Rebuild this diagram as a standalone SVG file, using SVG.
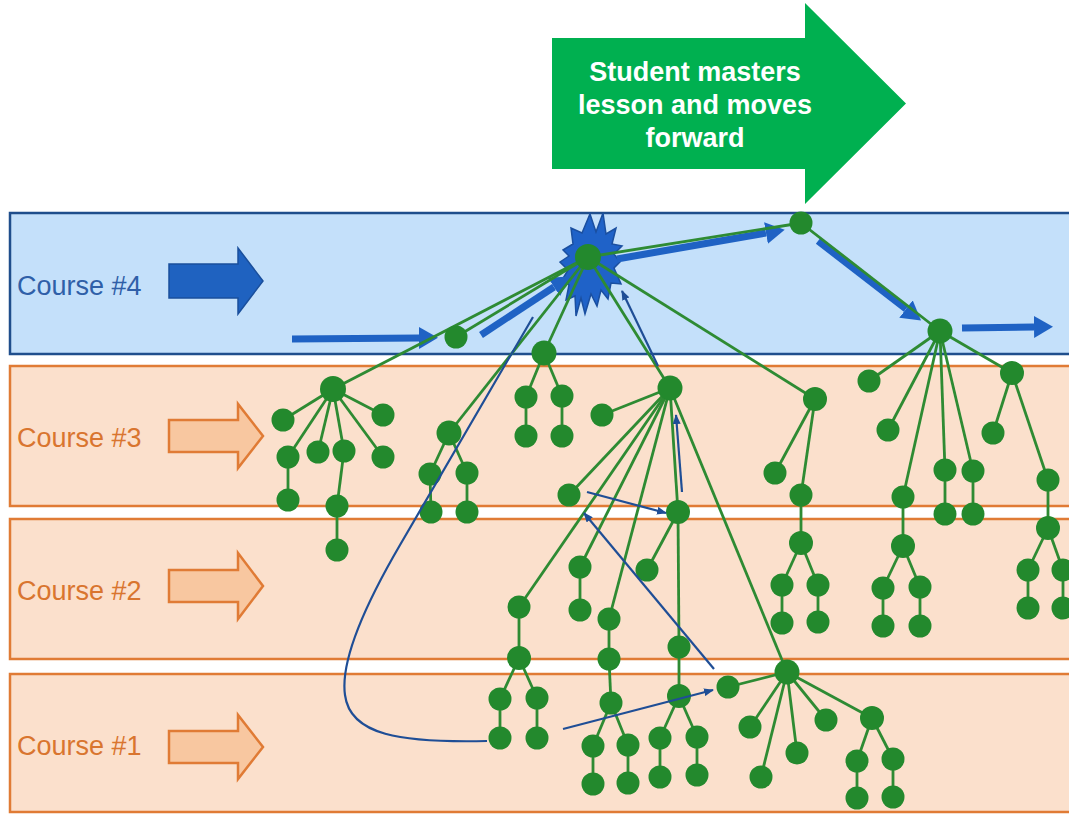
<svg xmlns="http://www.w3.org/2000/svg" width="1069" height="814" viewBox="0 0 1069 814">
<style>
.band4{fill:#c4e0fa;stroke:#1f4e8c;stroke-width:2.5}
.bando{fill:#fbe0cc;stroke:#e07b35;stroke-width:2.5}
.lbl{font-family:"Liberation Sans",Arial,sans-serif;font-size:27px}
.l4{fill:#2f5fa8}
.lo{fill:#d9752f}
.oarr{fill:#f8c7a0;stroke:#e07b35;stroke-width:2.5}
.barr{fill:#1f62c0;stroke:#1a4f9c;stroke-width:1.5}
.ed line{stroke:#2e8b33;stroke-width:2.8}
.nd{fill:#23892d}
.thk{stroke:#1f62c4;stroke-width:7;fill:none}
.thn{stroke:#1f4e96;stroke-width:2.2;fill:none}
.gt{font-family:"Liberation Sans",Arial,sans-serif;font-size:27px;font-weight:bold;fill:#ffffff;text-anchor:middle}
</style>
<defs>
<marker id="thick" viewBox="0 0 19 22" refX="0" refY="11" markerWidth="19" markerHeight="22" markerUnits="userSpaceOnUse" orient="auto"><path d="M0,0 L19,11 L0,22 Z" fill="#1f62c4"/></marker>
<marker id="thin" viewBox="0 0 10 8" refX="9" refY="4" markerWidth="10" markerHeight="8" markerUnits="userSpaceOnUse" orient="auto"><path d="M0,0 L10,4 L0,8 Z" fill="#1f4e96"/></marker>
</defs>
<rect width="1069" height="814" fill="#ffffff"/>
<g id="bands">
<rect class="band4" x="10" y="213" width="1080" height="141"/>
<rect class="bando" x="10" y="366" width="1080" height="140"/>
<rect class="bando" x="10" y="519" width="1080" height="140"/>
<rect class="bando" x="10" y="674" width="1080" height="138"/>
</g>
<g id="course4">
<text class="lbl l4" x="17" y="295">Course #4</text>
<polygon class="barr" points="169,264 238,264 238,248 263,281 238,314 238,298 169,298"/>
</g>
<g id="course3">
<text class="lbl lo" x="17" y="447">Course #3</text>
<polygon class="oarr" points="169,420 238,420 238,404 263,436 238,468 238,452 169,452"/>
</g>
<g id="course2">
<text class="lbl lo" x="17" y="600">Course #2</text>
<polygon class="oarr" points="169,570 238,570 238,553 263,586 238,619 238,602 169,602"/>
</g>
<g id="course1">
<text class="lbl lo" x="17" y="755">Course #1</text>
<polygon class="oarr" points="169,731 238,731 238,715 263,747 238,779 238,763 169,763"/>
</g>
<g id="banner">
<polygon points="552,38 805,38 805,3 906,103.5 805,204 805,169 552,169" fill="#00b050"/>
<text class="gt" x="695" y="81">Student masters</text>
<text class="gt" x="695" y="114">lesson and moves</text>
<text class="gt" x="695" y="147">forward</text>
</g>
<g id="star">
<polygon fill="#1f62c8" stroke="#1a4fa0" stroke-width="1.5" points="590,214 596,232 603,213 606,234 616,228 612,244 622,246 614,254 620,262 614,268 621,284 611,283 608,299 601,290 597,306 591,294 585,314 581,298 576,316 575,296 566,300 569,285 562,280 568,270 560,262 569,256 563,250 573,244 571,228 582,233"/>
</g>
<g id="connectors">
<g id="thick-arrows">
<line class="thk" x1="292" y1="339" x2="419" y2="338" marker-end="url(#thick)"/>
<line class="thk" x1="481" y1="335" x2="554" y2="287" marker-end="url(#thick)"/>
<line class="thk" x1="617" y1="259" x2="766" y2="233" marker-end="url(#thick)"/>
<line class="thk" x1="818" y1="241" x2="906" y2="309" marker-end="url(#thick)"/>
<line class="thk" x1="962" y1="328" x2="1034" y2="327" marker-end="url(#thick)"/>
</g>
<g class="ed" id="edges">
<line x1="588" y1="257" x2="333" y2="389"/>
<line x1="588" y1="257" x2="456" y2="337"/>
<line x1="588" y1="257" x2="449" y2="433"/>
<line x1="588" y1="257" x2="544" y2="353"/>
<line x1="588" y1="257" x2="670" y2="388"/>
<line x1="588" y1="257" x2="815" y2="399"/>
<line x1="588" y1="257" x2="801" y2="223"/>
<line x1="801" y1="223" x2="940" y2="331"/>
<line x1="333" y1="389" x2="283" y2="420"/>
<line x1="333" y1="389" x2="288" y2="457"/>
<line x1="333" y1="389" x2="318" y2="452"/>
<line x1="333" y1="389" x2="344" y2="451"/>
<line x1="333" y1="389" x2="383" y2="457"/>
<line x1="333" y1="389" x2="383" y2="415"/>
<line x1="288" y1="457" x2="288" y2="500"/>
<line x1="344" y1="451" x2="337" y2="506"/>
<line x1="337" y1="506" x2="337" y2="550"/>
<line x1="449" y1="433" x2="430" y2="474"/>
<line x1="449" y1="433" x2="467" y2="473"/>
<line x1="430" y1="474" x2="431" y2="512"/>
<line x1="467" y1="473" x2="467" y2="512"/>
<line x1="544" y1="353" x2="526" y2="397"/>
<line x1="544" y1="353" x2="562" y2="396"/>
<line x1="526" y1="397" x2="526" y2="436"/>
<line x1="562" y1="396" x2="562" y2="436"/>
<line x1="670" y1="388" x2="602" y2="415"/>
<line x1="670" y1="388" x2="569" y2="495"/>
<line x1="670" y1="388" x2="678" y2="512"/>
<line x1="670" y1="388" x2="580" y2="567"/>
<line x1="670" y1="388" x2="519" y2="607"/>
<line x1="670" y1="388" x2="609" y2="619"/>
<line x1="670" y1="388" x2="787" y2="672"/>
<line x1="580" y1="567" x2="580" y2="610"/>
<line x1="678" y1="512" x2="647" y2="570"/>
<line x1="678" y1="512" x2="679" y2="647"/>
<line x1="519" y1="607" x2="519" y2="658"/>
<line x1="519" y1="658" x2="500" y2="699"/>
<line x1="519" y1="658" x2="537" y2="698"/>
<line x1="500" y1="699" x2="500" y2="738"/>
<line x1="537" y1="698" x2="537" y2="738"/>
<line x1="609" y1="619" x2="609" y2="659"/>
<line x1="609" y1="659" x2="611" y2="703"/>
<line x1="611" y1="703" x2="593" y2="746"/>
<line x1="611" y1="703" x2="628" y2="745"/>
<line x1="593" y1="746" x2="593" y2="784"/>
<line x1="628" y1="745" x2="628" y2="783"/>
<line x1="679" y1="647" x2="679" y2="696"/>
<line x1="679" y1="696" x2="660" y2="738"/>
<line x1="679" y1="696" x2="697" y2="737"/>
<line x1="660" y1="738" x2="660" y2="777"/>
<line x1="697" y1="737" x2="697" y2="775"/>
<line x1="787" y1="672" x2="728" y2="687"/>
<line x1="787" y1="672" x2="750" y2="727"/>
<line x1="787" y1="672" x2="761" y2="777"/>
<line x1="787" y1="672" x2="797" y2="753"/>
<line x1="787" y1="672" x2="826" y2="720"/>
<line x1="787" y1="672" x2="872" y2="718"/>
<line x1="872" y1="718" x2="857" y2="761"/>
<line x1="872" y1="718" x2="893" y2="759"/>
<line x1="857" y1="761" x2="857" y2="798"/>
<line x1="893" y1="759" x2="893" y2="797"/>
<line x1="815" y1="399" x2="775" y2="473"/>
<line x1="815" y1="399" x2="801" y2="495"/>
<line x1="801" y1="495" x2="801" y2="543"/>
<line x1="801" y1="543" x2="782" y2="585"/>
<line x1="801" y1="543" x2="818" y2="585"/>
<line x1="782" y1="585" x2="782" y2="623"/>
<line x1="818" y1="585" x2="818" y2="622"/>
<line x1="940" y1="331" x2="869" y2="381"/>
<line x1="940" y1="331" x2="888" y2="430"/>
<line x1="940" y1="331" x2="903" y2="497"/>
<line x1="940" y1="331" x2="945" y2="470"/>
<line x1="940" y1="331" x2="973" y2="471"/>
<line x1="940" y1="331" x2="1012" y2="373"/>
<line x1="1012" y1="373" x2="993" y2="433"/>
<line x1="1012" y1="373" x2="1048" y2="480"/>
<line x1="945" y1="470" x2="945" y2="514"/>
<line x1="973" y1="471" x2="973" y2="514"/>
<line x1="903" y1="497" x2="903" y2="546"/>
<line x1="903" y1="546" x2="883" y2="588"/>
<line x1="903" y1="546" x2="920" y2="587"/>
<line x1="883" y1="588" x2="883" y2="626"/>
<line x1="920" y1="587" x2="920" y2="626"/>
<line x1="1048" y1="480" x2="1048" y2="528"/>
<line x1="1048" y1="528" x2="1028" y2="570"/>
<line x1="1048" y1="528" x2="1063" y2="570"/>
<line x1="1028" y1="570" x2="1028" y2="608"/>
<line x1="1063" y1="570" x2="1063" y2="608"/>
</g>
</g>
<g id="nodes">
<g id="n-hub"><circle class="nd" cx="588" cy="257" r="13"/></g>
<g id="n-b"><circle class="nd" cx="456" cy="337" r="11.5"/></g>
<g id="n-c"><circle class="nd" cx="801" cy="223" r="11.5"/></g>
<g id="n-d"><circle class="nd" cx="940" cy="331" r="12.5"/></g>
<g id="n-e"><circle class="nd" cx="544" cy="353" r="12.5"/></g>
<g id="n-r3"><circle class="nd" cx="333" cy="389" r="13"/></g>
<g id="n-r3a"><circle class="nd" cx="283" cy="420" r="11.5"/></g>
<g id="n-r3b"><circle class="nd" cx="288" cy="457" r="11.5"/></g>
<g id="n-r3c"><circle class="nd" cx="318" cy="452" r="11.5"/></g>
<g id="n-r3d"><circle class="nd" cx="344" cy="451" r="11.5"/></g>
<g id="n-r3e"><circle class="nd" cx="383" cy="457" r="11.5"/></g>
<g id="n-r3f"><circle class="nd" cx="383" cy="415" r="11.5"/></g>
<g id="n-r3g"><circle class="nd" cx="288" cy="500" r="11.5"/></g>
<g id="n-r3h"><circle class="nd" cx="337" cy="506" r="11.5"/></g>
<g id="n-r3i"><circle class="nd" cx="337" cy="550" r="11.5"/></g>
<g id="n-t"><circle class="nd" cx="449" cy="433" r="12.5"/></g>
<g id="n-ta"><circle class="nd" cx="430" cy="474" r="11.5"/></g>
<g id="n-tb"><circle class="nd" cx="467" cy="473" r="11.5"/></g>
<g id="n-tc"><circle class="nd" cx="431" cy="512" r="11.5"/></g>
<g id="n-td"><circle class="nd" cx="467" cy="512" r="11.5"/></g>
<g id="n-ea"><circle class="nd" cx="526" cy="397" r="11.5"/></g>
<g id="n-eb"><circle class="nd" cx="562" cy="396" r="11.5"/></g>
<g id="n-ec"><circle class="nd" cx="526" cy="436" r="11.5"/></g>
<g id="n-ed"><circle class="nd" cx="562" cy="436" r="11.5"/></g>
<g id="n-f"><circle class="nd" cx="670" cy="388" r="12.5"/></g>
<g id="n-fa"><circle class="nd" cx="602" cy="415" r="11.5"/></g>
<g id="n-fb"><circle class="nd" cx="569" cy="495" r="11.5"/></g>
<g id="n-fc"><circle class="nd" cx="678" cy="512" r="12"/></g>
<g id="n-fd"><circle class="nd" cx="580" cy="567" r="11.5"/></g>
<g id="n-fe"><circle class="nd" cx="580" cy="610" r="11.5"/></g>
<g id="n-ff"><circle class="nd" cx="647" cy="570" r="11.5"/></g>
<g id="n-fg"><circle class="nd" cx="519" cy="607" r="11.5"/></g>
<g id="n-fh"><circle class="nd" cx="519" cy="658" r="12"/></g>
<g id="n-fi"><circle class="nd" cx="500" cy="699" r="11.5"/></g>
<g id="n-fj"><circle class="nd" cx="537" cy="698" r="11.5"/></g>
<g id="n-fk"><circle class="nd" cx="500" cy="738" r="11.5"/></g>
<g id="n-fl"><circle class="nd" cx="537" cy="738" r="11.5"/></g>
<g id="n-fm"><circle class="nd" cx="609" cy="619" r="11.5"/></g>
<g id="n-fn"><circle class="nd" cx="609" cy="659" r="11.5"/></g>
<g id="n-fo"><circle class="nd" cx="611" cy="703" r="11.5"/></g>
<g id="n-fp"><circle class="nd" cx="593" cy="746" r="11.5"/></g>
<g id="n-fq"><circle class="nd" cx="628" cy="745" r="11.5"/></g>
<g id="n-fr"><circle class="nd" cx="593" cy="784" r="11.5"/></g>
<g id="n-fs"><circle class="nd" cx="628" cy="783" r="11.5"/></g>
<g id="n-ft"><circle class="nd" cx="679" cy="647" r="11.5"/></g>
<g id="n-fu"><circle class="nd" cx="679" cy="696" r="12"/></g>
<g id="n-fv"><circle class="nd" cx="660" cy="738" r="11.5"/></g>
<g id="n-fw"><circle class="nd" cx="697" cy="737" r="11.5"/></g>
<g id="n-fx"><circle class="nd" cx="660" cy="777" r="11.5"/></g>
<g id="n-fy"><circle class="nd" cx="697" cy="775" r="11.5"/></g>
<g id="n-h"><circle class="nd" cx="787" cy="672" r="12.5"/></g>
<g id="n-ha"><circle class="nd" cx="728" cy="687" r="11.5"/></g>
<g id="n-hb"><circle class="nd" cx="750" cy="727" r="11.5"/></g>
<g id="n-hc"><circle class="nd" cx="761" cy="777" r="11.5"/></g>
<g id="n-hd"><circle class="nd" cx="797" cy="753" r="11.5"/></g>
<g id="n-he"><circle class="nd" cx="826" cy="720" r="11.5"/></g>
<g id="n-hf"><circle class="nd" cx="872" cy="718" r="12"/></g>
<g id="n-hg"><circle class="nd" cx="857" cy="761" r="11.5"/></g>
<g id="n-hh"><circle class="nd" cx="893" cy="759" r="11.5"/></g>
<g id="n-hi"><circle class="nd" cx="857" cy="798" r="11.5"/></g>
<g id="n-hj"><circle class="nd" cx="893" cy="797" r="11.5"/></g>
<g id="n-g"><circle class="nd" cx="815" cy="399" r="12"/></g>
<g id="n-ga"><circle class="nd" cx="775" cy="473" r="11.5"/></g>
<g id="n-gb"><circle class="nd" cx="801" cy="495" r="11.5"/></g>
<g id="n-gc"><circle class="nd" cx="801" cy="543" r="12"/></g>
<g id="n-gd"><circle class="nd" cx="782" cy="585" r="11.5"/></g>
<g id="n-ge"><circle class="nd" cx="818" cy="585" r="11.5"/></g>
<g id="n-gf"><circle class="nd" cx="782" cy="623" r="11.5"/></g>
<g id="n-gg"><circle class="nd" cx="818" cy="622" r="11.5"/></g>
<g id="n-da"><circle class="nd" cx="869" cy="381" r="11.5"/></g>
<g id="n-db"><circle class="nd" cx="888" cy="430" r="11.5"/></g>
<g id="n-dc"><circle class="nd" cx="1012" cy="373" r="12"/></g>
<g id="n-dd"><circle class="nd" cx="993" cy="433" r="11.5"/></g>
<g id="n-de"><circle class="nd" cx="945" cy="470" r="11.5"/></g>
<g id="n-df"><circle class="nd" cx="973" cy="471" r="11.5"/></g>
<g id="n-dg"><circle class="nd" cx="945" cy="514" r="11.5"/></g>
<g id="n-dh"><circle class="nd" cx="973" cy="514" r="11.5"/></g>
<g id="n-di"><circle class="nd" cx="903" cy="497" r="11.5"/></g>
<g id="n-dj"><circle class="nd" cx="903" cy="546" r="12"/></g>
<g id="n-dk"><circle class="nd" cx="883" cy="588" r="11.5"/></g>
<g id="n-dl"><circle class="nd" cx="920" cy="587" r="11.5"/></g>
<g id="n-dm"><circle class="nd" cx="883" cy="626" r="11.5"/></g>
<g id="n-dn"><circle class="nd" cx="920" cy="626" r="11.5"/></g>
<g id="n-do"><circle class="nd" cx="1048" cy="480" r="11.5"/></g>
<g id="n-dp"><circle class="nd" cx="1048" cy="528" r="12"/></g>
<g id="n-dq"><circle class="nd" cx="1028" cy="570" r="11.5"/></g>
<g id="n-dr"><circle class="nd" cx="1063" cy="570" r="11.5"/></g>
<g id="n-ds"><circle class="nd" cx="1028" cy="608" r="11.5"/></g>
<g id="n-dt"><circle class="nd" cx="1063" cy="608" r="11.5"/></g>
</g>
<g id="thin-arrows">
<line class="thn" x1="587" y1="492" x2="666" y2="513" marker-end="url(#thin)"/>
<line class="thn" x1="682" y1="492" x2="676" y2="415" marker-end="url(#thin)"/>
<line class="thn" x1="714" y1="669" x2="584" y2="513" marker-end="url(#thin)"/>
<line class="thn" x1="563" y1="729" x2="713" y2="690" marker-end="url(#thin)"/>
<line class="thn" x1="658" y1="366" x2="622" y2="291" marker-end="url(#thin)"/>
<path class="thn" d="M487,741 C400,743 350,735 345,695 C340,660 365,605 400,545 L533,317"/>
</g>
</svg>
